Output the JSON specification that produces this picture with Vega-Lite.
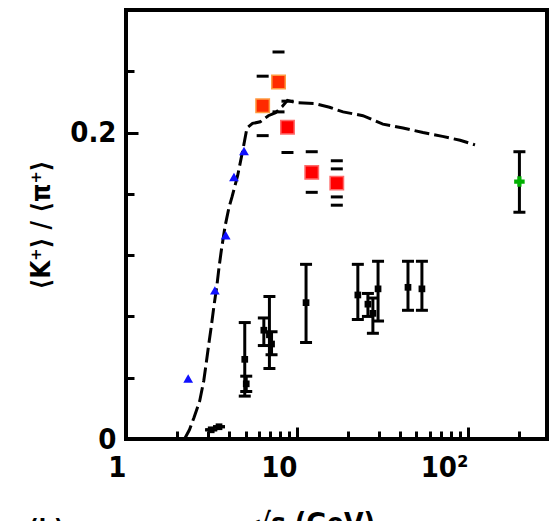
{
  "$schema": "https://vega.github.io/schema/vega-lite/v6.json",
  "autosize": {"type": "none"},
  "width": 421,
  "height": 429,
  "padding": {"left": 126, "top": 10, "right": 3, "bottom": 82},
  "title": {"text": "(b)", "orient": "bottom", "anchor": "start", "frame": "bounds", "baseline": "top", "offset": -20, "fontSize": 24, "fontWeight": "bold", "font": "Liberation Sans Narrow, DejaVu Sans Condensed, Liberation Sans", "color": "black"},
  "datasets": {
    "curve": [
      {"x": 2.2, "y": 0}, {"x": 2.35, "y": 0.006}, {"x": 2.5, "y": 0.014}, {"x": 2.7, "y": 0.025},
      {"x": 2.85, "y": 0.038}, {"x": 2.95, "y": 0.05}, {"x": 3.05, "y": 0.062}, {"x": 3.15, "y": 0.073},
      {"x": 3.27, "y": 0.087}, {"x": 3.4, "y": 0.1}, {"x": 3.5, "y": 0.112}, {"x": 3.62, "y": 0.124},
      {"x": 3.8, "y": 0.139}, {"x": 4.0, "y": 0.151}, {"x": 4.17, "y": 0.158}, {"x": 4.5, "y": 0.172},
      {"x": 4.85, "y": 0.19}, {"x": 5.1, "y": 0.203}, {"x": 5.5, "y": 0.206}, {"x": 6.1, "y": 0.207},
      {"x": 6.8, "y": 0.211}, {"x": 7.5, "y": 0.213}, {"x": 8.2, "y": 0.217}, {"x": 8.8, "y": 0.221},
      {"x": 9.8, "y": 0.2195}, {"x": 12.7, "y": 0.219}, {"x": 15.5, "y": 0.2165}, {"x": 18.6, "y": 0.2135},
      {"x": 24.3, "y": 0.211}, {"x": 31.8, "y": 0.2055}, {"x": 41.7, "y": 0.203}, {"x": 54.6, "y": 0.2},
      {"x": 71, "y": 0.1975}, {"x": 90, "y": 0.195}, {"x": 110, "y": 0.192}
    ],
    "tri": [
      {"x": 2.31, "y": 0.0395}, {"x": 3.31, "y": 0.097}, {"x": 3.83, "y": 0.133},
      {"x": 4.28, "y": 0.171}, {"x": 4.9, "y": 0.188}
    ],
    "sq": [
      {"x": 6.3, "y": 0.2175, "k": "o"}, {"x": 7.8, "y": 0.233, "k": "o"},
      {"x": 8.8, "y": 0.2035, "k": "r"}, {"x": 12.2, "y": 0.174, "k": "r"}, {"x": 17.1, "y": 0.167, "k": "r"}
    ],
    "sqerr": [
      {"x": 6.3, "lo": 0.198, "hi": 0.2368}, {"x": 7.8, "lo": 0.2135, "hi": 0.2526},
      {"x": 8.8, "lo": 0.187, "hi": 0.2205}, {"x": 12.2, "lo": 0.161, "hi": 0.1875},
      {"x": 17.1, "lo": 0.158, "hi": 0.1763}, {"x": 17.1, "lo": 0.1526, "hi": 0.1816}
    ],
    "blk": [
      {"x": 3.15, "y": 0.006, "lo": 0.006, "hi": 0.006}, {"x": 3.5, "y": 0.008, "lo": 0.008, "hi": 0.008},
      {"x": 4.95, "y": 0.052, "lo": 0.028, "hi": 0.076}, {"x": 5.05, "y": 0.036, "lo": 0.031, "hi": 0.041},
      {"x": 6.4, "y": 0.071, "lo": 0.061, "hi": 0.079}, {"x": 6.9, "y": 0.068, "lo": 0.046, "hi": 0.093},
      {"x": 7.1, "y": 0.062, "lo": 0.055, "hi": 0.070}, {"x": 11.3, "y": 0.089, "lo": 0.063, "hi": 0.114},
      {"x": 22.7, "y": 0.094, "lo": 0.078, "hi": 0.114}, {"x": 26.0, "y": 0.088, "lo": 0.080, "hi": 0.095},
      {"x": 27.8, "y": 0.082, "lo": 0.069, "hi": 0.092}, {"x": 29.8, "y": 0.098, "lo": 0.077, "hi": 0.116},
      {"x": 44.6, "y": 0.099, "lo": 0.084, "hi": 0.116}, {"x": 53.8, "y": 0.098, "lo": 0.084, "hi": 0.116}
    ],
    "grn": [
      {"x": 200, "y": 0.168, "lo": 0.148, "hi": 0.1875}
    ]
  },
  "layer": [
    {
      "data": {"name": "curve"},
      "mark": {"type": "line", "color": "black", "strokeWidth": 3, "strokeDash": [15, 5]},
      "encoding": {
        "x": {
          "field": "x", "type": "quantitative", "title": "√s (GeV)",
          "scale": {"type": "log", "domain": [1, 290], "nice": false},
          "axis": {
            "values": [1, 2, 3, 4, 5, 6, 7, 8, 9, 10, 20, 30, 40, 50, 60, 70, 80, 90, 100, 200],
            "labelExpr": "datum.value == 1 ? '1' : datum.value == 10 ? '10' : datum.value == 100 ? '10²' : ''",
            "tickSize": {"condition": {"test": "datum.value == 1 || datum.value == 10 || datum.value == 100", "value": -12}, "value": -8},
            "tickWidth": 3, "tickColor": "black", "domain": false, "grid": false,
            "labelPadding": 26, "labelFlush": false, "labelOverlap": false, "labelBound": false,
            "labelAlign": "right",
            "labelFont": "Liberation Sans Narrow, DejaVu Sans Condensed, Liberation Sans",
            "labelFontSize": 29, "labelFontWeight": "bold", "labelColor": "black",
            "titleFont": "Liberation Sans Narrow, DejaVu Sans Condensed, Liberation Sans",
            "titleFontSize": 28, "titleFontWeight": "bold", "titleColor": "black",
            "titleX": 188, "titleY": 71, "titleAlign": "center", "titleBaseline": "top"
          }
        },
        "y": {
          "field": "y", "type": "quantitative", "title": "⟨K⁺⟩ / ⟨π⁺⟩",
          "scale": {"domain": [0, 0.28], "nice": false, "zero": false},
          "axis": {
            "values": [0, 0.02, 0.04, 0.06, 0.08, 0.1, 0.12, 0.14, 0.16, 0.18, 0.2, 0.22, 0.24, 0.26],
            "labelExpr": "abs(datum.value) < 1e-6 ? '0' : abs(datum.value - 0.1) < 1e-6 ? '0.1' : abs(datum.value - 0.2) < 1e-6 ? '0.2' : ''",
            "tickSize": {"condition": {"test": "abs(datum.value) < 1e-6 || abs(datum.value - 0.1) < 1e-6 || abs(datum.value - 0.2) < 1e-6", "value": -12}, "value": -8},
            "tickWidth": 3, "tickColor": "black", "domain": false, "grid": false,
            "labelPadding": 22, "labelFlush": false, "labelOverlap": false, "labelBound": false,
            "labelFont": "Liberation Sans Narrow, DejaVu Sans Condensed, Liberation Sans",
            "labelFontSize": 29, "labelFontWeight": "bold", "labelColor": "black",
            "titleFont": "Liberation Sans Narrow, DejaVu Sans Condensed, Liberation Sans",
            "titleFontSize": 26, "titleFontWeight": "bold", "titleColor": "black",
            "titlePadding": 15
          }
        }
      }
    },
    {
      "data": {"name": "blk"},
      "mark": {"type": "rule", "color": "black", "strokeWidth": 3},
      "encoding": {
        "x": {"field": "x", "type": "quantitative", "title": "√s (GeV)", "scale": {"type": "log", "domain": [1, 290], "nice": false}},
        "y": {"field": "lo", "type": "quantitative", "title": "⟨K⁺⟩ / ⟨π⁺⟩", "scale": {"domain": [0, 0.28], "nice": false, "zero": false}},
        "y2": {"field": "hi"}
      }
    },
    {
      "data": {"name": "blk"},
      "mark": {"type": "tick", "orient": "horizontal", "color": "black", "size": 12, "thickness": 3, "opacity": 1},
      "encoding": {
        "x": {"field": "x", "type": "quantitative", "title": "√s (GeV)", "scale": {"type": "log", "domain": [1, 290], "nice": false}},
        "y": {"field": "lo", "type": "quantitative", "title": "⟨K⁺⟩ / ⟨π⁺⟩", "scale": {"domain": [0, 0.28], "nice": false, "zero": false}}
      }
    },
    {
      "data": {"name": "blk"},
      "mark": {"type": "tick", "orient": "horizontal", "color": "black", "size": 12, "thickness": 3, "opacity": 1},
      "encoding": {
        "x": {"field": "x", "type": "quantitative", "title": "√s (GeV)", "scale": {"type": "log", "domain": [1, 290], "nice": false}},
        "y": {"field": "hi", "type": "quantitative", "title": "⟨K⁺⟩ / ⟨π⁺⟩", "scale": {"domain": [0, 0.28], "nice": false, "zero": false}}
      }
    },
    {
      "data": {"name": "blk"},
      "mark": {"type": "point", "shape": "square", "filled": true, "color": "black", "size": 45, "opacity": 1},
      "encoding": {
        "x": {"field": "x", "type": "quantitative", "title": "√s (GeV)", "scale": {"type": "log", "domain": [1, 290], "nice": false}},
        "y": {"field": "y", "type": "quantitative", "title": "⟨K⁺⟩ / ⟨π⁺⟩", "scale": {"domain": [0, 0.28], "nice": false, "zero": false}}
      }
    },
    {
      "data": {"name": "sqerr"},
      "mark": {"type": "tick", "orient": "horizontal", "color": "black", "size": 12, "thickness": 3, "opacity": 1},
      "encoding": {
        "x": {"field": "x", "type": "quantitative", "title": "√s (GeV)", "scale": {"type": "log", "domain": [1, 290], "nice": false}},
        "y": {"field": "lo", "type": "quantitative", "title": "⟨K⁺⟩ / ⟨π⁺⟩", "scale": {"domain": [0, 0.28], "nice": false, "zero": false}}
      }
    },
    {
      "data": {"name": "sqerr"},
      "mark": {"type": "tick", "orient": "horizontal", "color": "black", "size": 12, "thickness": 3, "opacity": 1},
      "encoding": {
        "x": {"field": "x", "type": "quantitative", "title": "√s (GeV)", "scale": {"type": "log", "domain": [1, 290], "nice": false}},
        "y": {"field": "hi", "type": "quantitative", "title": "⟨K⁺⟩ / ⟨π⁺⟩", "scale": {"domain": [0, 0.28], "nice": false, "zero": false}}
      }
    },
    {
      "data": {"name": "sq"},
      "mark": {"type": "point", "shape": "square", "filled": true, "size": 180, "opacity": 1, "strokeWidth": 1.5},
      "encoding": {
        "x": {"field": "x", "type": "quantitative", "title": "√s (GeV)", "scale": {"type": "log", "domain": [1, 290], "nice": false}},
        "y": {"field": "y", "type": "quantitative", "title": "⟨K⁺⟩ / ⟨π⁺⟩", "scale": {"domain": [0, 0.28], "nice": false, "zero": false}},
        "fill": {"field": "k", "type": "nominal", "scale": {"domain": ["o", "r"], "range": ["#ff2a00", "#ff0000"]}, "legend": null},
        "stroke": {"field": "k", "type": "nominal", "scale": {"domain": ["o", "r"], "range": ["#ff9a40", "#ff6a6a"]}, "legend": null}
      }
    },
    {
      "data": {"name": "tri"},
      "mark": {"type": "point", "shape": "triangle-up", "filled": true, "color": "#1010ff", "size": 95, "opacity": 1},
      "encoding": {
        "x": {"field": "x", "type": "quantitative", "title": "√s (GeV)", "scale": {"type": "log", "domain": [1, 290], "nice": false}},
        "y": {"field": "y", "type": "quantitative", "title": "⟨K⁺⟩ / ⟨π⁺⟩", "scale": {"domain": [0, 0.28], "nice": false, "zero": false}}
      }
    },
    {
      "data": {"name": "grn"},
      "mark": {"type": "rule", "color": "black", "strokeWidth": 3},
      "encoding": {
        "x": {"field": "x", "type": "quantitative", "title": "√s (GeV)", "scale": {"type": "log", "domain": [1, 290], "nice": false}},
        "y": {"field": "lo", "type": "quantitative", "title": "⟨K⁺⟩ / ⟨π⁺⟩", "scale": {"domain": [0, 0.28], "nice": false, "zero": false}},
        "y2": {"field": "hi"}
      }
    },
    {
      "data": {"name": "grn"},
      "mark": {"type": "tick", "orient": "horizontal", "color": "black", "size": 12, "thickness": 3, "opacity": 1},
      "encoding": {
        "x": {"field": "x", "type": "quantitative", "title": "√s (GeV)", "scale": {"type": "log", "domain": [1, 290], "nice": false}},
        "y": {"field": "lo", "type": "quantitative", "title": "⟨K⁺⟩ / ⟨π⁺⟩", "scale": {"domain": [0, 0.28], "nice": false, "zero": false}}
      }
    },
    {
      "data": {"name": "grn"},
      "mark": {"type": "tick", "orient": "horizontal", "color": "black", "size": 12, "thickness": 3, "opacity": 1},
      "encoding": {
        "x": {"field": "x", "type": "quantitative", "title": "√s (GeV)", "scale": {"type": "log", "domain": [1, 290], "nice": false}},
        "y": {"field": "hi", "type": "quantitative", "title": "⟨K⁺⟩ / ⟨π⁺⟩", "scale": {"domain": [0, 0.28], "nice": false, "zero": false}}
      }
    },
    {
      "data": {"name": "grn"},
      "mark": {"type": "point", "shape": "cross", "filled": true, "color": "#00b000", "size": 110, "opacity": 1},
      "encoding": {
        "x": {"field": "x", "type": "quantitative", "title": "√s (GeV)", "scale": {"type": "log", "domain": [1, 290], "nice": false}},
        "y": {"field": "y", "type": "quantitative", "title": "⟨K⁺⟩ / ⟨π⁺⟩", "scale": {"domain": [0, 0.28], "nice": false, "zero": false}}
      }
    }
  ],
  "config": {
    "view": {"stroke": "black", "strokeWidth": 4},
    "font": "Liberation Sans Narrow, DejaVu Sans Condensed, Liberation Sans"
  }
}
